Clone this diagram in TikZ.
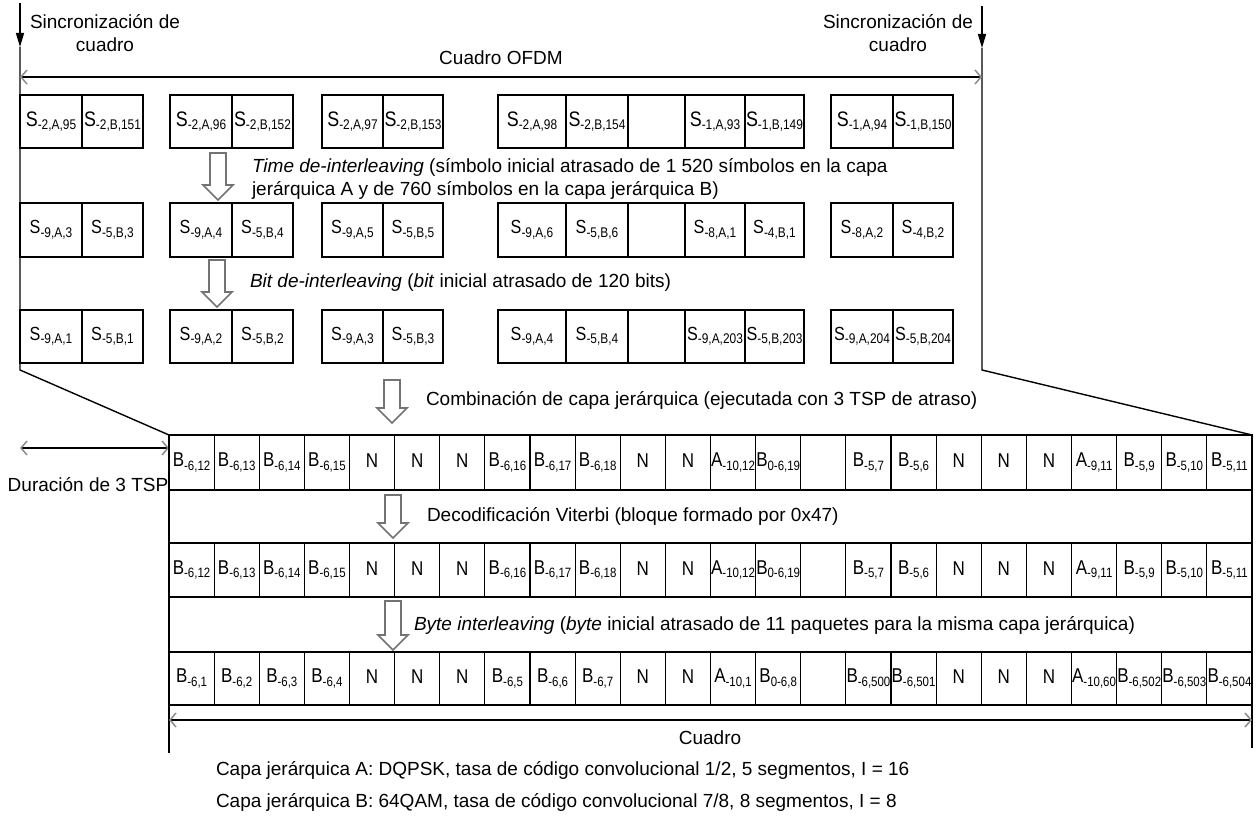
\documentclass[tikz,border=0pt]{standalone}
\usepackage{fontspec}
\setmainfont{Liberation Sans}
\newfontfamily\cellfont[FakeStretch=0.85]{Liberation Sans}
\usetikzlibrary{arrows.meta}
\newcommand{\cellLab}[4]{{\cellfont\fontsize{#3}{#3}\selectfont #1}\raisebox{-3.5pt}{\cellfont\fontsize{#4}{#4}\selectfont #2}}
\newcommand{\blockArrow}[3]{\draw[harrow] ({#1-8},#2) -- ({#1+8},#2) -- ({#1+8},{#3-15}) -- ({#1+15},{#3-15}) -- (#1,#3) -- ({#1-15},{#3-15}) -- ({#1-8},{#3-15}) -- cycle;}
\begin{document}
\begin{tikzpicture}[x=1pt,y=-1pt,
  txt/.style={font=\fontsize{19}{23}\selectfont, inner sep=0pt, outer sep=0pt},
  lab/.style={inner sep=0pt, outer sep=0pt},
  cellbox/.style={line width=1.2pt},
  frame/.style={line width=1.4pt},
  harrow/.style={draw=black!55, line width=1.6pt, fill=white, line join=miter},
  dbl/.style={line width=1.4pt, {Straight Barb[length=6pt,width=14pt,color=black!45,line width=1.5pt]}-{Straight Barb[length=6pt,width=14pt,color=black!45,line width=1.5pt]}},
  synctip/.style={frame, -{Triangle[length=14pt,width=8pt]}}]
\useasboundingbox (0,0) rectangle (1256,821);

% frame of OFDM part
\coordinate (lt) at (20,3);
\coordinate (la) at (20,47);
\coordinate (lb) at (20,370);
\coordinate (rt) at (982,6);
\coordinate (ra) at (982,48);
\coordinate (rb) at (982,370);
\coordinate (bl) at (169,435);
\coordinate (br) at (1252,435);
\draw[synctip] (lt) -- (la);
\draw[frame] (la) -- (lb) -- (bl);
\draw[synctip] (rt) -- (ra);
\draw[frame] (ra) -- (rb) -- (br);

\node[txt, align=center] (syncL) at (105,33) {Sincronización de\\cuadro};
\node[txt, align=center] (syncR) at (898,33) {Sincronización de\\cuadro};

\coordinate (ofL) at (20,77);
\coordinate (ofR) at (982,77);
\draw[dbl] (ofL) -- (ofR);
\node[txt] (ofdm) at (501,58) {Cuadro OFDM};

% row 1
\foreach \xa/\xb/\m/\s [count=\i] in {20/82/S/{-2,A,95}, 82/143/S/{-2,B,151}, 170/232/S/{-2,A,96}, 232/293/S/{-2,B,152}, 322/383/S/{-2,A,97}, 383/443/S/{-2,B,153}, 498/566/S/{-2,A,98}, 566/628/S/{-2,B,154}, 628/685/{}/{}, 685/745/S/{-1,A,93}, 745/804/S/{-1,B,149}, 831/893/S/{-1,A,94}, 893/953/S/{-1,B,150}}{
  \draw[cellbox] (\xa,95) rectangle (\xb,148);
  \node[lab] (ra\i) at ({(\xa+\xb)/2},121.5) {\cellLab{\m}{\s}{21}{14}};
}
% row 2
\foreach \xa/\xb/\m/\s [count=\i] in {20/82/S/{-9,A,3}, 82/143/S/{-5,B,3}, 170/232/S/{-9,A,4}, 232/293/S/{-5,B,4}, 322/383/S/{-9,A,5}, 383/443/S/{-5,B,5}, 498/566/S/{-9,A,6}, 566/628/S/{-5,B,6}, 628/685/{}/{}, 685/745/S/{-8,A,1}, 745/804/S/{-4,B,1}, 831/893/S/{-8,A,2}, 893/953/S/{-4,B,2}}{
  \draw[cellbox] (\xa,203) rectangle (\xb,257);
  \node[lab] (rb\i) at ({(\xa+\xb)/2},230) {\cellLab{\m}{\s}{19}{14}};
}
% row 3
\foreach \xa/\xb/\m/\s [count=\i] in {20/82/S/{-9,A,1}, 82/143/S/{-5,B,1}, 170/232/S/{-9,A,2}, 232/293/S/{-5,B,2}, 322/383/S/{-9,A,3}, 383/443/S/{-5,B,3}, 498/566/S/{-9,A,4}, 566/628/S/{-5,B,4}, 628/685/{}/{}, 685/745/S/{-9,A,203}, 745/804/S/{-5,B,203}, 831/893/S/{-9,A,204}, 893/953/S/{-5,B,204}}{
  \draw[cellbox] (\xa,310) rectangle (\xb,363);
  \node[lab] (rc\i) at ({(\xa+\xb)/2},336.5) {\cellLab{\m}{\s}{19}{14}};
}

\blockArrow{218}{153}{200}
\node[txt, anchor=west, align=left] (timeTxt) at (252,178.5) {\textit{Time de-interleaving} (símbolo inicial atrasado de 1 520 símbolos en la capa\\jerárquica A y de 760 símbolos en la capa jerárquica B)};
\blockArrow{217}{260}{307}
\node[txt, anchor=west] (bitTxt) at (250,283) {\textit{Bit de-interleaving} (\textit{bit} inicial atrasado de 120 bits)};

\blockArrow{392}{380}{423}
\node[txt, anchor=west] (combTxt) at (426,400) {Combinación de capa jerárquica (ejecutada con 3 TSP de atraso)};

\coordinate (duL) at (20,448);
\coordinate (duR) at (169,448);
\draw[dbl] (duL) -- (duR);
\node[txt] (durTxt) at (88,485) {Duración de 3 TSP};

% TSP frame
\draw[frame] (bl) rectangle (1252,705);
\foreach \yy in {490,543,597,652} \draw[cellbox] (169,\yy) -- (1252,\yy);
\draw[frame] (169,705) -- (169,753);
\draw[frame] (1252,705) -- (1252,748);
\foreach \k in {1,...,23}{
  \draw[cellbox] ({169+\k*45.125},435) -- ({169+\k*45.125},490);
  \draw[cellbox] ({169+\k*45.125},543) -- ({169+\k*45.125},597);
  \draw[cellbox] ({169+\k*45.125},652) -- ({169+\k*45.125},705);
}
\foreach \m/\s [count=\k] in {B/{-6,12}, B/{-6,13}, B/{-6,14}, B/{-6,15}, N/{}, N/{}, N/{}, B/{-6,16}, B/{-6,17}, B/{-6,18}, N/{}, N/{}, A/{-10,12}, B/{0-6,19}, {}/{}, B/{-5,7}, B/{-5,6}, N/{}, N/{}, N/{}, A/{-9,11}, B/{-5,9}, B/{-5,10}, B/{-5,11}}{
  \node[lab] (ba\k) at ({169+(\k-0.5)*45.125},462.5) {\cellLab{\m}{\s}{20}{13.5}};
  \node[lab] (bb\k) at ({169+(\k-0.5)*45.125},570) {\cellLab{\m}{\s}{20}{13.5}};
}
\foreach \m/\s [count=\k] in {B/{-6,1}, B/{-6,2}, B/{-6,3}, B/{-6,4}, N/{}, N/{}, N/{}, B/{-6,5}, B/{-6,6}, B/{-6,7}, N/{}, N/{}, A/{-10,1}, B/{0-6,8}, {}/{}, B/{-6,500}, B/{-6,501}, N/{}, N/{}, N/{}, A/{-10,60}, B/{-6,502}, B/{-6,503}, B/{-6,504}}{
  \node[lab] (bc\k) at ({169+(\k-0.5)*45.125},678.5) {\cellLab{\m}{\s}{20}{13.5}};
}

\blockArrow{393}{495}{538}
\node[txt, anchor=west] (decTxt) at (427,516) {Decodificación Viterbi (bloque formado por 0x47)};
\blockArrow{393}{601}{650}
\node[txt, anchor=west] (byteTxt) at (414,625) {\textit{Byte interleaving} (\textit{byte} inicial atrasado de 11 paquetes para la misma capa jerárquica)};

\coordinate (cuL) at (169,720);
\coordinate (cuR) at (1252,720);
\draw[dbl] (cuL) -- (cuR);
\node[txt] (cuadTxt) at (710,738) {Cuadro};

\node[txt, anchor=west] (capaA) at (216,770) {Capa jerárquica A: DQPSK, tasa de código convolucional 1/2, 5 segmentos, I = 16};
\node[txt, anchor=west] (capaB) at (216,802) {Capa jerárquica B: 64QAM, tasa de código convolucional 7/8, 8 segmentos, I = 8};
\end{tikzpicture}
\end{document}
